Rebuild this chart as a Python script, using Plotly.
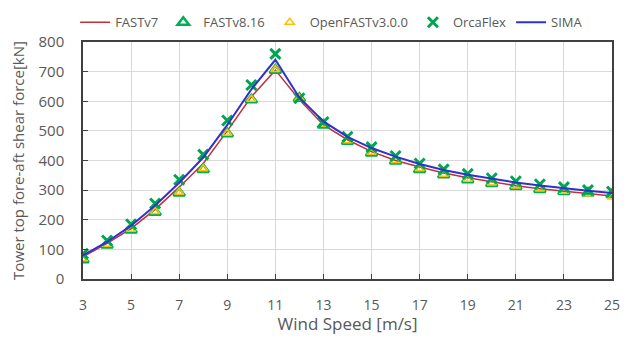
import plotly.graph_objects as go

wind = list(range(3, 26))
fastv7 = [75, 120, 170, 235, 310, 390, 500, 615, 705, 605, 520, 470, 430, 400, 378, 358, 342, 328, 315, 305, 296, 288, 280]
fastv816 = [65, 115, 165, 225, 290, 370, 490, 605, 705, 610, 520, 465, 425, 398, 370, 352, 335, 322, 312, 302, 295, 290, 285]
openfast = [68, 117, 168, 228, 293, 372, 492, 607, 707, 610, 522, 467, 428, 400, 372, 354, 337, 324, 314, 304, 296, 288, 277]
orcaflex = [85, 130, 185, 255, 335, 420, 535, 655, 760, 610, 530, 480, 445, 415, 390, 370, 355, 340, 330, 320, 310, 300, 295]
sima = [80, 125, 180, 248, 325, 410, 520, 640, 740, 612, 532, 480, 442, 413, 388, 368, 352, 338, 326, 316, 306, 298, 290]

xticks = list(range(3, 26, 2))
yticks = list(range(0, 801, 100))

fig = go.Figure()
fig.add_trace(go.Scatter(x=wind, y=fastv7, mode="lines", name="FASTv7",
                         line=dict(color="#C0303A", width=1.5)))
fig.add_trace(go.Scatter(x=wind, y=fastv816, mode="markers", name="FASTv8.16",
                         marker=dict(symbol="triangle-up-open", color="#00B050", size=10,
                                     line=dict(width=2.5, color="#00B050"))))
fig.add_trace(go.Scatter(x=wind, y=openfast, mode="markers", name="OpenFASTv3.0.0",
                         marker=dict(symbol="triangle-up-open", color="#FFC000", size=8,
                                     line=dict(width=1.5, color="#FFC000"))))
fig.add_trace(go.Scatter(x=wind, y=orcaflex, mode="markers", name="OrcaFlex",
                         marker=dict(symbol="x-thin-open", color="#00A550", size=10,
                                     line=dict(width=3, color="#00A550"))))
fig.add_trace(go.Scatter(x=wind, y=sima, mode="lines", name="SIMA",
                         line=dict(color="#3030D0", width=2)))

font_family = "Open Sans, Liberation Sans, sans-serif"
fig.update_layout(
    width=615, height=327,
    margin=dict(l=75, r=11, t=34, b=56, autoexpand=False),
    paper_bgcolor="white", plot_bgcolor="white",
    font=dict(family=font_family, color="#595959", size=13),
    legend=dict(orientation="h", x=0.47, xanchor="center", y=1.02, yanchor="bottom",
                font=dict(size=13, color="#595959"),
                tracegroupgap=0, bgcolor="rgba(0,0,0,0)"),
    showlegend=True,
)
fig.update_xaxes(range=[3, 25], tickvals=xticks, ticktext=[str(v) for v in xticks],
                 showgrid=True, gridcolor="#D9D9D9", gridwidth=1,
                 showline=True, linecolor="#404040", linewidth=1.5, mirror=True,
                 ticks="inside", ticklen=5, tickcolor="#404040",
                 ticklabelstandoff=12, automargin=False, ticklabeloverflow="allow",
                 title=dict(text="Wind Speed [m/s]", font=dict(size=17, color="#595959"), standoff=12),
                 tickfont=dict(size=14, color="#595959"), zeroline=False)
fig.update_yaxes(range=[0, 800], tickvals=yticks, ticktext=[str(v) for v in yticks],
                 showgrid=True, gridcolor="#D9D9D9", gridwidth=1,
                 showline=True, linecolor="#404040", linewidth=1.5, mirror=True,
                 ticks="inside", ticklen=5, tickcolor="#404040",
                 ticklabelstandoff=14, automargin=False,
                 title=dict(text="Tower top fore-aft shear force[kN]", font=dict(size=15, color="#595959"), standoff=12),
                 tickfont=dict(size=15, color="#595959"), zeroline=False)

fig.write_html("out.html")
